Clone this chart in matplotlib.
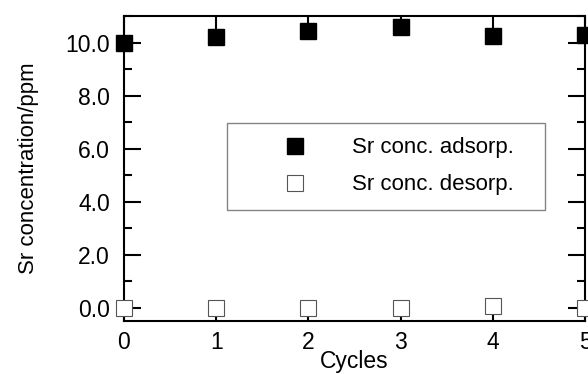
import matplotlib
matplotlib.use("Agg")
import matplotlib.pyplot as plt
from matplotlib.ticker import MultipleLocator

plt.rcParams['font.family'] = ['Liberation Sans', 'DejaVu Sans']

cycles = [0, 1, 2, 3, 4, 5]
adsorp = [10.0, 10.2, 10.45, 10.6, 10.25, 10.3]
desorp = [0.0, 0.0, 0.0, 0.0, 0.05, 0.0]
xticks = [0, 1, 2, 3, 4, 5]
yticks = [0.0, 2.0, 4.0, 6.0, 8.0, 10.0]
ytick_labels = ["0.0", "2.0", "4.0", "6.0", "8.0", "10.0"]

fig = plt.figure(figsize=(5.88, 3.74), dpi=100)
ax = fig.add_axes([124/588, 1-321/374, (585-124)/588, (321-16)/374])

ax.plot(cycles, adsorp, linestyle='none', marker='s', markersize=12,
        markerfacecolor='black', markeredgecolor='black', clip_on=False,
        label='Sr conc. adsorp.', zorder=5)
ax.plot(cycles, desorp, linestyle='none', marker='s', markersize=12,
        markerfacecolor='white', markeredgecolor='#555555', markeredgewidth=0.8,
        clip_on=False, label='Sr conc. desorp.', zorder=5)

ax.set_xlim(0, 5)
ax.set_ylim(-0.5, 11)
ax.set_xticks(xticks)
ax.set_yticks(yticks)
ax.set_yticklabels(ytick_labels)
ax.yaxis.set_minor_locator(MultipleLocator(1.0))

for s in ax.spines.values():
    s.set_linewidth(1.5)

ax.tick_params(axis='both', which='major', direction='in', length=12, width=1.5,
               top=True, right=True, labelsize=16.5)
ax.tick_params(axis='y', which='major', pad=10)
ax.tick_params(axis='x', which='major', pad=7)
ax.tick_params(axis='y', which='minor', direction='in', length=6, width=1.5,
               left=True, right=True)
ax.tick_params(axis='x', which='minor', bottom=False, top=False)

ax.set_xlabel('Cycles', fontsize=16.5, labelpad=-3)
ax.set_ylabel('Sr concentration/ppm', fontsize=16, labelpad=19)

leg = ax.legend(loc='upper left', bbox_to_anchor=(0.223, 0.354, 0.69, 0.295),
                mode='expand', fontsize=16, frameon=True, fancybox=False,
                borderpad=0.65, handlelength=4.8, handletextpad=0.2,
                labelspacing=0.72, borderaxespad=0)
leg.get_frame().set_edgecolor('#666666')
leg.get_frame().set_linewidth(1.0)

fig.savefig('out.png', dpi=100)
